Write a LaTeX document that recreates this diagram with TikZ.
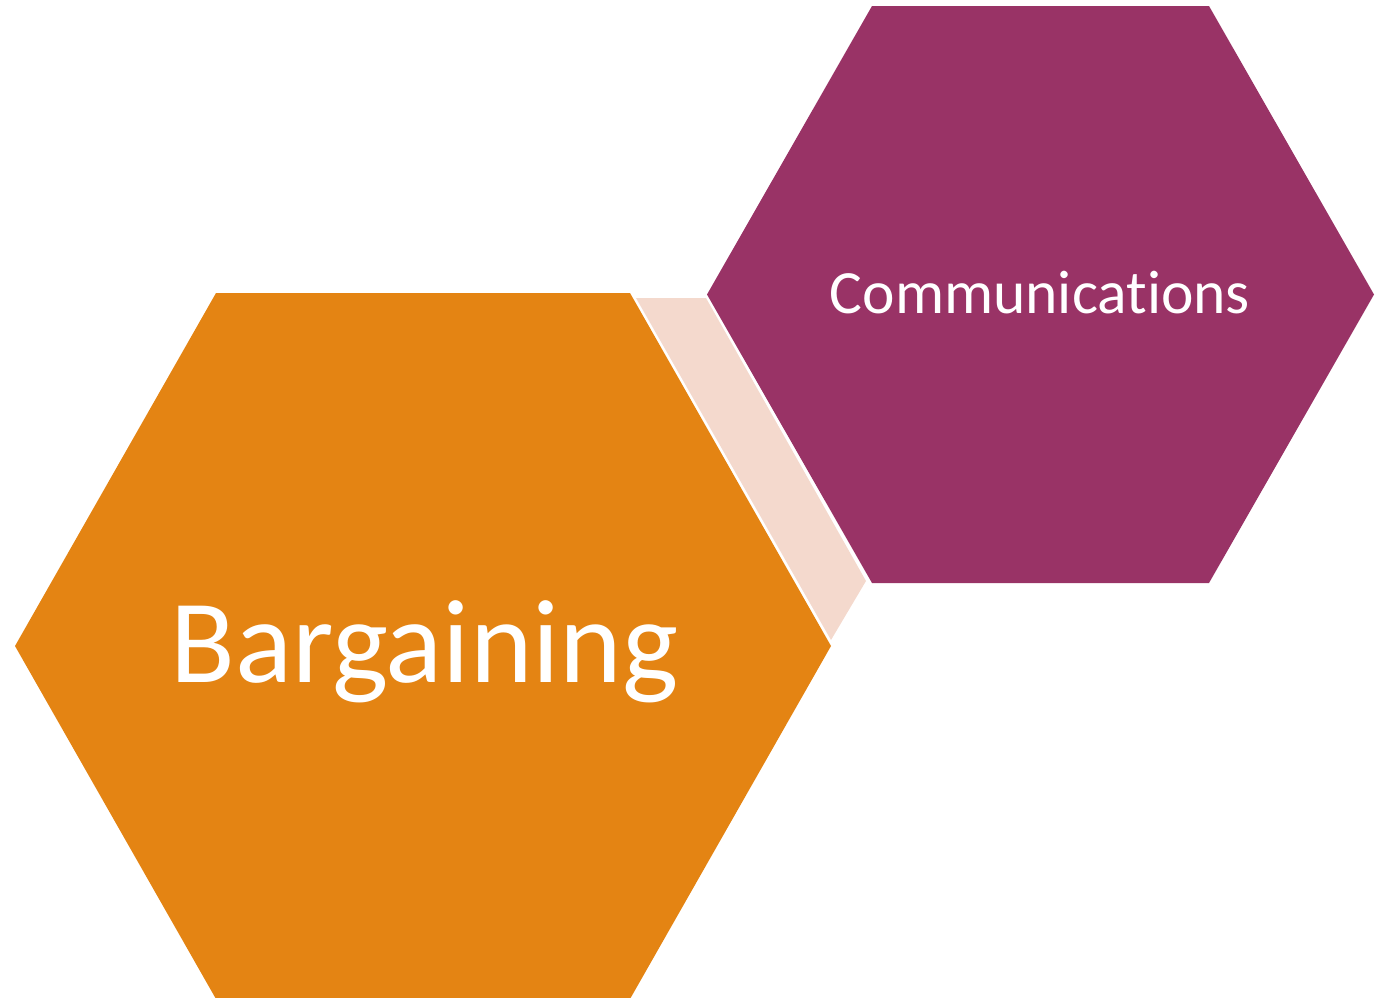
\documentclass[tikz,border=0pt]{standalone}
\usepackage{fontspec}
\setmainfont{Carlito}[Ligatures={NoCommon}]
\definecolor{hexorange}{HTML}{E48413}
\definecolor{hexpurple}{HTML}{993366}
\definecolor{hexpink}{HTML}{F4D9CD}
\tikzset{
  hexlabel/.style={text=white, inner sep=0pt, anchor=base},
}
\begin{document}
\begin{tikzpicture}[x=1pt,y=-1pt]
\useasboundingbox (0,0) rectangle (1386,997);
\fill[hexpink] (636,298) -- (706,298) -- (866,581) -- (831,640) -- cycle;
\fill[hexorange] (216,293) -- (630,293) -- (831,646) -- (630,999) -- (216,999) -- (15,646) -- cycle;
\fill[hexpurple] (872,6) -- (1209,6) -- (1374,294.5) -- (1209,583) -- (872,583) -- (707,294.5) -- cycle;
\node[hexlabel, font=\fontsize{119}{119}\selectfont] (bargaining) at (424.5,682) {Bargaining};
\node[hexlabel, font=\fontsize{61.5}{61.5}\selectfont] (communications) at (1040,313.5) {Communications};
\end{tikzpicture}
\end{document}
